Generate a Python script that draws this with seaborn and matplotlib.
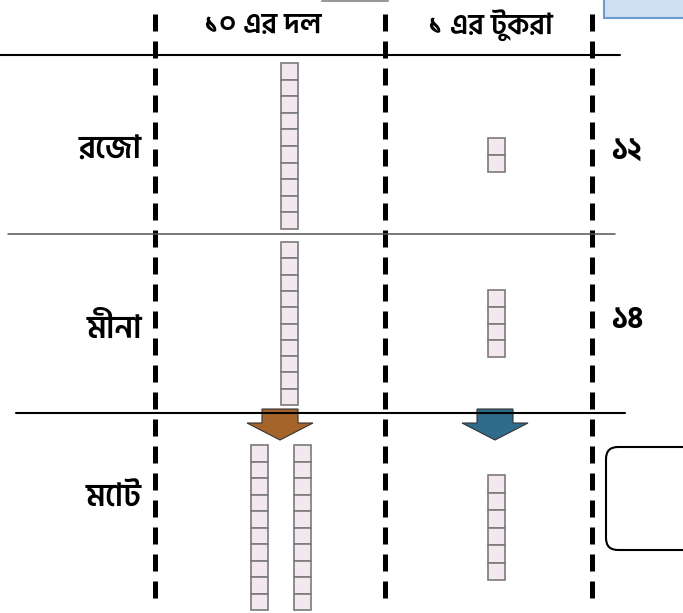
import matplotlib
matplotlib.use("Agg")
import matplotlib.pyplot as plt
from matplotlib import font_manager as fm
from matplotlib.patches import FancyBboxPatch, Polygon, Rectangle
import seaborn as sns
import os
import unicodedata

# ---- data ----
rows = ["রেজা", "মীনা", "মোট"]
headers = ["১০ এর দল", "১ এর টুকরা"]
tens_rods = [1, 1, 2]          # number of ten-rods per row
ones_cubes = [2, 4, 6]         # number of unit cubes per row
totals = ["১২", "১৪", ""]      # totals shown at right (last is blank box)

sns.set_theme(style="white")
gdir = "/usr/share/fonts/truetype/google-fonts/"
for name in ["HindSiliguri-Bold.ttf", "HindSiliguri-SemiBold.ttf",
             "HindSiliguri-Medium.ttf", "HindSiliguri-Regular.ttf"]:
    p = os.path.join(gdir, name)
    if os.path.exists(p):
        fm.fontManager.addfont(p)
FAM = ["Hind Siliguri", "DejaVu Sans"]
plt.rcParams["font.family"] = FAM
plt.rcParams["text.color"] = "black"

def nfd(s):
    # canonical decomposition (two-part vowel signs) for renderers without shaping
    return unicodedata.normalize("NFD", s)

W, H = 683, 613
fig = plt.figure(figsize=(W / 100, H / 100), dpi=100)
ax = fig.add_axes([0, 0, 1, 1])
ax.set_xlim(0, W)
ax.set_ylim(H, 0)
ax.axis("off")

# dashed verticals
for x in [155, 385, 592]:
    ax.plot([x, x], [14, 606], color="black", lw=3.6, linestyle=(0, (3.4, 2.0)),
            solid_capstyle="butt", dash_capstyle="butt")

# horizontal separators
ax.plot([0, 620], [55, 55], color="black", lw=1.5)
ax.plot([8, 615], [234, 234], color="#555555", lw=1.1)
ax.plot([16, 625], [413, 413], color="black", lw=1.5)

# top decorations
ax.plot([322, 388], [1, 1], color="#999999", lw=1.5)
ax.add_patch(Rectangle((604, -5), 90, 23, facecolor="#cfe0f5", edgecolor="#6f9ad0", lw=1.5))

# headers
ax.text(263, 25, nfd(headers[0]), ha="center", va="center", fontsize=21,
        weight="semibold", color="black")
ax.text(490, 25, nfd(headers[1]), ha="center", va="center", fontsize=21,
        weight="semibold", color="black")

row_label_y = [150, 328, 498]
for lab, y in zip(rows, row_label_y):
    ax.text(142, y, nfd(lab), ha="right", va="center", fontsize=23,
            weight="semibold", color="black")

total_y = [152, 320]
for t, y in zip(totals[:2], total_y):
    ax.text(611, y, nfd(t), ha="left", va="center", fontsize=22, weight="bold", color="black")

ax.add_patch(FancyBboxPatch((606, 447), 100, 103, boxstyle="round,pad=0,rounding_size=12",
                            facecolor="white", edgecolor="black", lw=1.5))

CUBE_FC = "#f3e8ef"
CUBE_EC = "#7a7a7a"
cw = 17

def rod(xc, top, n, ch):
    xs = [xc] * n
    bottoms = [top + i * ch for i in range(n)]
    ax.bar(xs, [ch] * n, bottom=bottoms, width=cw, color=CUBE_FC,
           edgecolor=CUBE_EC, linewidth=1.2, align="center")

# tens column
tens_layout = [(63, 16.6), (242, 16.3), (445, 16.5)]
tens_x = {1: [289], 2: [259, 302]}
for n, (top, ch) in zip(tens_rods, tens_layout):
    for xc in tens_x[n]:
        rod(xc, top, 10, ch)

# ones column
ones_layout = [(138, 17), (290, 16.8), (475, 17.5)]
for n, (top, ch) in zip(ones_cubes, ones_layout):
    rod(496, top, n, ch)

# arrows
def arrow(xc, color):
    pts = [(xc - 18, 409), (xc + 18, 409), (xc + 18, 423), (xc + 33, 423),
           (xc, 440), (xc - 33, 423), (xc - 18, 423)]
    ax.add_patch(Polygon(pts, closed=True, facecolor=color, edgecolor="#333333", lw=0.8))

arrow(280, "#a5642a")
arrow(495, "#2f6b8c")

fig.savefig("out.png", dpi=100)
